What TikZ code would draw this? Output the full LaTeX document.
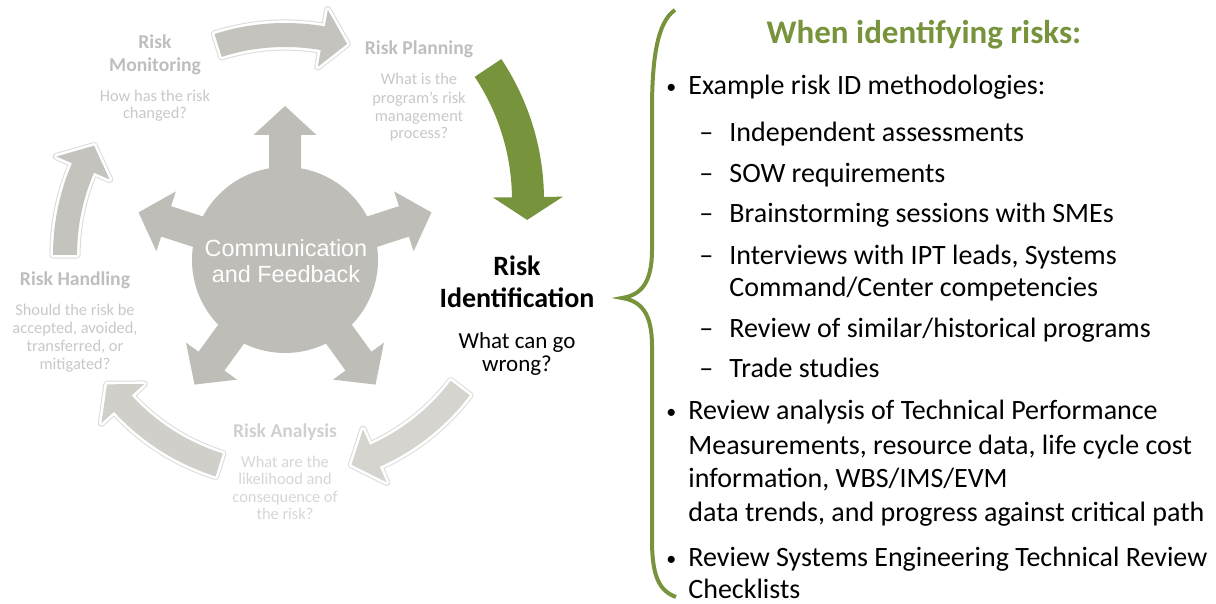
\documentclass[tikz,border=0pt]{standalone}
\usepackage{fontspec}
\setmainfont{Carlito}
\newfontfamily\arialfont{Liberation Sans}
\usetikzlibrary{positioning}

\definecolor{olive}{RGB}{119,147,60}
\definecolor{hubgray}{RGB}{191,189,183}
\definecolor{ringA}{RGB}{196,195,189}
\definecolor{ringB}{RGB}{208,207,202}
\definecolor{ringC}{RGB}{213,212,207}
\definecolor{labelgray}{RGB}{190,190,190}
\definecolor{askgray}{RGB}{200,200,200}
\definecolor{palegray}{RGB}{208,208,208}
\definecolor{paleask}{RGB}{214,214,214}

% curved block arrow: style, centre, radius, start, end, half body, half head, head angle
\newcommand{\ringarrow}[8]{%
    \path[#1, shift={#2}] ({#4}:{#3+#6}) arc[start angle={#4}, end angle={#5-#8}, radius={#3+#6}]
        -- ({#5-#8}:{#3+#7}) -- ({#5}:{#3}) -- ({#5-#8}:{#3-#7})
        -- ({#5-#8}:{#3-#6}) arc[start angle={#5-#8}, end angle={#4}, radius={#3-#6}] -- cycle;
}

\begin{document}
\begin{tikzpicture}[x=0.5pt, y=-0.5pt,
    ring/.style={fill=#1,
        preaction={draw=black!14, line width=3.6pt, line join=round},
        preaction={draw=white, line width=2.6pt, line join=round}},
    stage/.style={font=\fontsize{9.8}{11}\selectfont\bfseries, text=labelgray, anchor=mid, inner sep=0pt},
    ask/.style={font=\fontsize{8.2}{9}\selectfont, text=askgray, anchor=mid, inner sep=0pt},
    item/.style={font=\fontsize{14}{17.5}\selectfont, anchor=mid west, inner sep=0pt},
    dot/.style={font=\fontsize{10}{12}\selectfont, anchor=mid west, inner sep=0pt}]
    \useasboundingbox (0,0) rectangle (1216,604);

    % Cycle arrows
    \ringarrow{ring=ringA}{(285,255)}{220}{252.3}{286.4}{12}{29}{6.5}
    \ringarrow{ring=ringA}{(285,255)}{220}{180}{209.8}{12}{29}{6.5}
    \ringarrow{ring=ringB}{(285,255)}{220}{107.4}{144}{12}{29}{6.5}
    \ringarrow{ring=ringC}{(285,255)}{220}{37.2}{72.4}{12}{29}{6.5}
    \ringarrow{fill=olive}{(290,200)}{238}{-33.7}{4.8}{16}{35}{5.5}

    % Hub with spokes
    \node[circle, fill=hubgray, minimum size=93pt, inner sep=0pt] (hub) at (285,260) {};
    \foreach \a in {18, 90, 162, 234, 306} {
        \fill[hubgray, shift={(hub.center)}, rotate=\a]
            (0,-16) -- (125,-16) -- (125,-31.5) -- (154,0) -- (125,31.5) -- (125,16) -- (0,16) -- cycle;
    }
    \node[font=\arialfont\fontsize{11.7}{13}\selectfont, text=white, align=center] (comm) at (286,261)
        {Communication\\and Feedback};

    % Stage labels
    \node[stage] (monA) at (155,44) {Risk};
    \node[stage] (monB) at (155,67) {Monitoring};
    \node[ask] (monQa) at (155,97) {How has the risk};
    \node[ask] (monQb) at (155,114) {changed?};

    \node[stage] (plan) at (419,50) {Risk Planning};
    \node[ask] (planQa) at (419,80) {What is the};
    \node[ask] (planQb) at (419,99) {program’s risk};
    \node[ask] (planQc) at (419,117) {management};
    \node[ask] (planQd) at (419,134) {process?};

    \node[stage] (hand) at (75,281) {Risk Handling};
    \node[ask] (handQa) at (75,311) {Should the risk be};
    \node[ask] (handQb) at (75,329) {accepted, avoided,};
    \node[ask] (handQc) at (75,347) {transferred, or};
    \node[ask] (handQd) at (75,365) {mitigated?};

    \node[stage, text=palegray] (anal) at (285,433) {Risk Analysis};
    \node[ask, text=paleask] (analQa) at (285,463) {What are the};
    \node[ask, text=paleask] (analQb) at (285,480) {likelihood and};
    \node[ask, text=paleask] (analQc) at (285,498) {consequence of};
    \node[ask, text=paleask] (analQd) at (285,515) {the risk?};

    \node[font=\fontsize{14}{17}\selectfont\bfseries, anchor=mid, inner sep=0pt] (idA) at (517,271) {Risk};
    \node[font=\fontsize{14}{17}\selectfont\bfseries, anchor=mid, inner sep=0pt] (idB) at (517,303) {Identification};
    \node[font=\fontsize{11.5}{14}\selectfont, anchor=mid, inner sep=0pt] (idQa) at (517,344) {What can go};
    \node[font=\fontsize{11.5}{14}\selectfont, anchor=mid, inner sep=0pt] (idQb) at (517,367) {wrong?};

    % Brace
    \draw[olive, line width=2pt] (675,10) .. controls (657,22) and (652,60) .. (652,110) -- (652,250)
        .. controls (652,283) and (641,295) .. (622,298) .. controls (641,301) and (652,313) .. (652,346)
        -- (652,540) .. controls (652,578) and (660,591) .. (676,597);

    % Text list
    \node[font=\fontsize{16.5}{20}\selectfont\bfseries, text=olive, anchor=mid, inner sep=0pt] (title) at (924,39)
        {When identifying risks:};

    \node[dot] (bulA) at (666,89) {•};
    \node[item] (exA) at (688,90) {Example risk ID methodologies:};
    \foreach \y/\t [count=\i] in {137/Independent assessments, 178/SOW requirements,
        218/Brainstorming sessions with SMEs, 260/{Interviews with IPT leads, Systems},
        333/{Review of similar/historical programs}, 373/Trade studies} {
        \node[item] (dash\i) at (699,\y) {–};
        \node[item] (sub\i) at (729,\y) {\t};
    }
    \node[item] (subC) at (729,292) {Command/Center competencies};

    \node[dot] (bulB) at (666,414) {•};
    \node[item] (revA) at (688,415) {Review analysis of Technical Performance};
    \node[item] (revB) at (688,450) {Measurements, resource data, life cycle cost};
    \node[item] (revC) at (688,483) {information, WBS/IMS/EVM};
    \node[item] (revD) at (688,517) {data trends, and progress against critical path};

    \node[dot] (bulC) at (666,561) {•};
    \node[item] (sysA) at (688,562) {Review Systems Engineering Technical Review};
    \node[item] (sysB) at (688,594) {Checklists};
\end{tikzpicture}
\end{document}
